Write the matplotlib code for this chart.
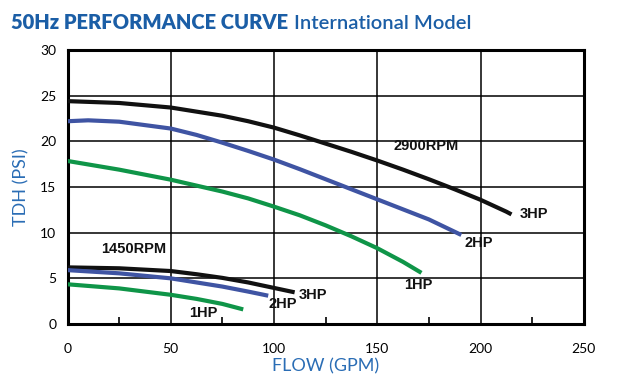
import matplotlib
matplotlib.use("Agg")
import matplotlib.pyplot as plt
from matplotlib.ticker import MultipleLocator

# ---- data ----
flow_2900_3hp = [0, 25, 50, 75, 87.5, 100, 112.5, 125, 137.5, 150, 162.5, 175, 187.5, 200, 212.5, 215]
tdh_2900_3hp = [24.4, 24.2, 23.7, 22.8, 22.2, 21.5, 20.65, 19.75, 18.85, 17.9, 16.9, 15.85, 14.75, 13.6, 12.3, 12.0]
flow_2900_2hp = [0, 10, 25, 50, 62.5, 75, 87.5, 100, 112.5, 125, 137.5, 150, 162.5, 175, 190.7]
tdh_2900_2hp = [22.2, 22.3, 22.15, 21.4, 20.7, 19.85, 18.95, 18.0, 16.95, 15.85, 14.75, 13.65, 12.55, 11.45, 9.75]
flow_2900_1hp = [0, 25, 50, 75, 87.5, 100, 112.5, 125, 137.5, 150, 162.5, 171.4]
tdh_2900_1hp = [17.85, 16.9, 15.8, 14.5, 13.75, 12.85, 11.9, 10.8, 9.6, 8.3, 6.8, 5.6]

flow_1450_3hp = [0, 25, 50, 62.5, 75, 87.5, 100, 110]
tdh_1450_3hp = [6.2, 6.1, 5.8, 5.45, 5.05, 4.55, 3.95, 3.47]
flow_1450_2hp = [0, 25, 50, 62.5, 75, 87.5, 97.2]
tdh_1450_2hp = [5.9, 5.55, 5.0, 4.55, 4.1, 3.55, 3.1]
flow_1450_1hp = [0, 25, 50, 62.5, 75, 85.1]
tdh_1450_1hp = [4.35, 3.9, 3.2, 2.75, 2.2, 1.6]

# (text, x, y) labels
curve_labels = [("2900RPM", 173.8, 19.5), ("3HP", 226, 12.0), ("2HP", 199, 8.9),
                ("1HP", 170, 4.3), ("1450RPM", 31.9, 8.2), ("3HP", 119, 3.2),
                ("2HP", 104, 2.2), ("1HP", 65.7, 1.2)]

x_ticks = [0, 50, 100, 150, 200, 250]
y_ticks = [0, 5, 10, 15, 20, 25, 30]

title_main = "50Hz PERFORMANCE CURVE"
title_sub = "International Model"

BLACK = "#111111"
BLUE = "#3f54a3"
GREEN = "#0f9548"
TITLE_BLUE = "#1b5ea6"
LABEL_BLUE = "#2a6db5"

fig = plt.figure(figsize=(6.25, 3.83), dpi=100)
ax = fig.add_axes([0.108, 0.154, 0.826, 0.7155])

lw = 3.0
for fx, ty, col in [(flow_2900_3hp, tdh_2900_3hp, BLACK),
                    (flow_2900_2hp, tdh_2900_2hp, BLUE),
                    (flow_2900_1hp, tdh_2900_1hp, GREEN),
                    (flow_1450_3hp, tdh_1450_3hp, BLACK),
                    (flow_1450_2hp, tdh_1450_2hp, BLUE),
                    (flow_1450_1hp, tdh_1450_1hp, GREEN)]:
    ax.plot(fx, ty, color=col, lw=lw, solid_capstyle="butt",
            solid_joinstyle="round", zorder=3)

for txt, x, y in curve_labels:
    ax.text(x, y, txt, ha="center", va="center", fontsize=10.5, fontweight="bold",
            family="Liberation Sans", color=BLACK, zorder=4)

ax.set_xlim(0, 250)
ax.set_ylim(0, 30)
ax.set_xticks(x_ticks)
ax.set_yticks(y_ticks)
ax.xaxis.set_minor_locator(MultipleLocator(25))
ax.grid(True, which="major", color="black", lw=1.1, zorder=1)
for s in ax.spines.values():
    s.set_linewidth(2.2)
    s.set_color("black")
ax.tick_params(axis="x", which="major", length=0, pad=14, labelsize=10)
ax.tick_params(axis="x", which="minor", direction="in", length=5, width=1.2)
ax.tick_params(axis="y", which="major", length=0, pad=8, labelsize=10)
for lab in ax.get_xticklabels() + ax.get_yticklabels():
    lab.set_family("Lato")

ax.set_xlabel("FLOW (GPM)", fontsize=13, color=LABEL_BLUE, family="Lato", labelpad=2)
ax.set_ylabel("TDH (PSI)", fontsize=13, color=LABEL_BLUE, family="Lato", labelpad=8)

t1 = fig.text(11 / 625, 1 - 29 / 383, title_main, fontsize=14.5,
              fontweight="heavy", family="Lato", color=TITLE_BLUE, ha="left", va="baseline")
fig.canvas.draw()
r = fig.canvas.get_renderer()
bb = t1.get_window_extent(r)
x2 = (bb.x1 + 6) / fig.bbox.width
fig.text(x2, 1 - 29 / 383, title_sub, fontsize=14.5,
         fontweight="semibold", family="Lato", color=TITLE_BLUE, ha="left", va="baseline")

fig.savefig("out.png", dpi=100)
